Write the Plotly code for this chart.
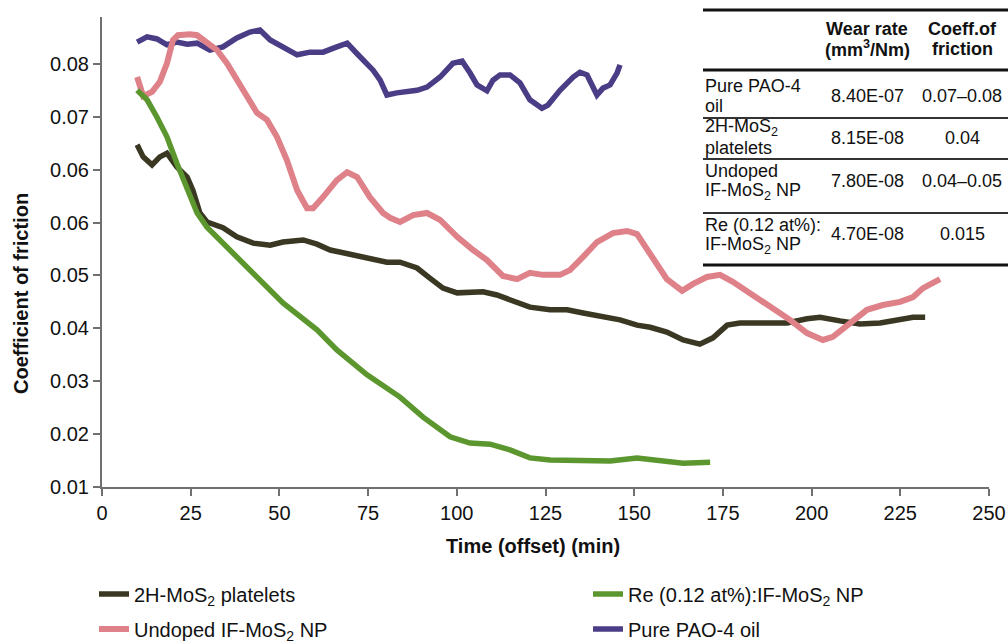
import plotly.graph_objects as go

# ---- friction traces: time (min) and coefficient of friction ----
pao_t = [9.9, 12.7, 15.5, 18.3, 21.1, 24.0, 26.8, 30.4, 34.1, 38.0, 41.7, 44.5, 47.4, 51.0,
         55.0, 58.6, 62.3, 66.2, 69.1, 71.9, 76.4, 78.4, 80.3, 83.1, 88.8, 91.6, 95.3, 98.9,
         101.5, 103.7, 105.7, 108.5, 110.2, 112.2, 115.0, 117.8, 120.6, 124.0, 125.7, 129.1,
         132.8, 134.7, 136.7, 139.5, 141.2, 143.2, 145.2, 146.0]
pao_f = [0.0941, 0.0951, 0.0947, 0.0936, 0.0941, 0.0937, 0.0939, 0.0926, 0.0932, 0.0949,
         0.0960, 0.0964, 0.0945, 0.0932, 0.0917, 0.0922, 0.0922, 0.0932, 0.0939, 0.0919,
         0.0888, 0.0869, 0.0841, 0.0845, 0.0850, 0.0856, 0.0875, 0.0901, 0.0905, 0.0883,
         0.0860, 0.0849, 0.0869, 0.0879, 0.0879, 0.0864, 0.0832, 0.0816, 0.0822, 0.0850,
         0.0875, 0.0884, 0.0879, 0.0841, 0.0854, 0.0860, 0.0883, 0.0898]

mos2_t = [9.9, 11.6, 14.1, 16.3, 18.3, 21.1, 24.0, 25.6, 27.6, 29.6, 34.1, 38.0, 42.6, 47.4,
          51.0, 56.7, 60.6, 64.3, 69.9, 74.7, 80.3, 84.0, 88.8, 92.4, 96.1, 100.1, 107.4,
          111.3, 117.0, 120.6, 126.3, 131.1, 135.6, 141.2, 146.0, 150.8, 154.5, 159.2, 163.8,
          168.5, 172.2, 176.2, 179.8, 187.4, 193.1, 198.7, 202.4, 208.0, 213.6, 219.3, 224.9,
          228.6, 232.0]
mos2_f = [0.0747, 0.0724, 0.0709, 0.0724, 0.0731, 0.0705, 0.0686, 0.0661, 0.0618, 0.0601,
          0.0590, 0.0573, 0.0561, 0.0557, 0.0563, 0.0567, 0.0559, 0.0548, 0.0540, 0.0533,
          0.0525, 0.0525, 0.0514, 0.0495, 0.0476, 0.0467, 0.0469, 0.0463, 0.0450, 0.0440,
          0.0435, 0.0435, 0.0429, 0.0421, 0.0416, 0.0406, 0.0402, 0.0393, 0.0378, 0.0370,
          0.0382, 0.0406, 0.0410, 0.0410, 0.0410, 0.0418, 0.0421, 0.0414, 0.0408, 0.0410,
          0.0416, 0.0421, 0.0421]

undoped_t = [9.9, 10.7, 11.6, 14.1, 16.3, 18.3, 20.0, 21.4, 24.8, 26.8, 29.6, 32.4, 35.2,
             38.0, 40.9, 43.7, 46.5, 49.3, 52.1, 55.0, 57.8, 59.5, 62.3, 66.2, 69.1, 71.9,
             75.5, 79.2, 81.2, 84.0, 87.7, 91.6, 95.3, 100.1, 104.6, 108.5, 113.0, 117.0,
             120.6, 124.3, 129.1, 131.9, 135.6, 139.5, 144.0, 148.0, 150.8, 154.5, 159.2,
             163.5, 166.6, 170.5, 174.2, 177.8, 182.6, 189.1, 193.9, 198.7, 203.2, 206.0,
             210.8, 215.6, 220.1, 224.9, 228.6, 231.4, 234.2, 236.2]
undoped_f = [0.0875, 0.0856, 0.0839, 0.0847, 0.0866, 0.0901, 0.0945, 0.0954, 0.0956, 0.0954,
             0.0941, 0.0926, 0.0901, 0.0869, 0.0837, 0.0807, 0.0794, 0.0762, 0.0718, 0.0661,
             0.0627, 0.0627, 0.0648, 0.0680, 0.0695, 0.0686, 0.0648, 0.0618, 0.0609, 0.0601,
             0.0614, 0.0618, 0.0605, 0.0573, 0.0548, 0.0529, 0.0499, 0.0493, 0.0505, 0.0501,
             0.0501, 0.0510, 0.0535, 0.0563, 0.0580, 0.0584, 0.0578, 0.0539, 0.0493, 0.0471,
             0.0484, 0.0497, 0.0501, 0.0488, 0.0467, 0.0440, 0.0416, 0.0391, 0.0378, 0.0384,
             0.0410, 0.0435, 0.0444, 0.0450, 0.0459, 0.0476, 0.0486, 0.0493]

re_t = [9.9, 12.7, 15.5, 18.3, 21.1, 24.0, 26.8, 29.6, 34.1, 38.9, 41.7, 51.0, 60.6, 66.2,
        74.7, 84.0, 90.5, 98.1, 103.7, 109.4, 115.0, 120.6, 126.3, 135.6, 143.2, 150.8,
        156.4, 163.8, 171.4]
re_f = [0.0850, 0.0832, 0.0799, 0.0762, 0.0712, 0.0661, 0.0618, 0.0591, 0.0561, 0.0529,
        0.0512, 0.0448, 0.0397, 0.0359, 0.0312, 0.0270, 0.0232, 0.0195, 0.0183, 0.0181,
        0.0170, 0.0155, 0.0151, 0.0151, 0.0149, 0.0155, 0.0151, 0.0145, 0.0147]

# axis ticks
x_ticks = [0, 25, 50, 75, 100, 125, 150, 175, 200, 225, 250]
y_tickvals = [0.01, 0.02, 0.03, 0.04, 0.05, 0.06, 0.07, 0.08, 0.09]
y_ticktext = ["0.01", "0.02", "0.03", "0.04", "0.05", "0.06", "0.06", "0.07", "0.08"]

# inset table contents
tbl_head_1 = ["Wear rate", "(mm<sup>3</sup>/Nm)"]
tbl_head_2 = ["Coeff.of", "friction"]
tbl_names = [["Pure PAO-4", "oil"],
             ["2H-MoS<sub>2</sub>", "platelets"],
             ["Undoped", "IF-MoS<sub>2</sub> NP"],
             ["Re (0.12 at%):", "IF-MoS<sub>2</sub> NP"]]
tbl_wear = ["8.40E-07", "8.15E-08", "7.80E-08", "4.70E-08"]
tbl_cof = ["0.07\u20130.08", "0.04", "0.04\u20130.05", "0.015"]

C_PAO = "#4b3c86"
C_2H = "#3a3823"
C_UND = "#df8189"
C_RE = "#5b972e"
FONT = "Liberation Sans, Arial, sans-serif"

W, H = 1008, 644
PL, PR, PT, PB = 102, 989, 17, 487


def xp(px):
    return (px - PL) / (PR - PL)


def yp(py):
    return (PB - py) / (PB - PT)


def label(text, px, py, size, xanchor="center", **kw):
    return dict(text=text, x=xp(px), y=yp(py), xref="paper", yref="paper",
                xanchor=xanchor, yanchor="middle", showarrow=False,
                font=dict(family=FONT, size=size, color="#111"), **kw)


fig = go.Figure()
fig.add_trace(go.Scatter(x=pao_t, y=pao_f, mode="lines", name="Pure PAO-4 oil",
                         line=dict(color=C_PAO, width=5.5), legend="legend4"))
fig.add_trace(go.Scatter(x=mos2_t, y=mos2_f, mode="lines", name="2H-MoS<sub>2</sub> platelets",
                         line=dict(color=C_2H, width=5.5), legend="legend"))
fig.add_trace(go.Scatter(x=undoped_t, y=undoped_f, mode="lines", name="Undoped IF-MoS<sub>2</sub> NP",
                         line=dict(color=C_UND, width=6), legend="legend3"))
fig.add_trace(go.Scatter(x=re_t, y=re_f, mode="lines", name="Re (0.12 at%):IF-MoS<sub>2</sub> NP",
                         line=dict(color=C_RE, width=5.5), legend="legend2"))

axis_common = dict(showgrid=False, zeroline=False, showline=True, linecolor="#707070",
                   linewidth=2, ticks="outside", ticklen=7, tickwidth=2, tickcolor="#707070",
                   tickfont=dict(family=FONT, size=20, color="#111"))

fig.update_xaxes(range=[0, 250], tickvals=x_ticks, **axis_common)
fig.update_yaxes(range=[0.01, 0.01 + (PB - PT) / 5290], tickvals=y_tickvals,
                 ticktext=y_ticktext, **axis_common)

annotations = [
    label("<b>Time (offset) (min)</b>", 533, 546, 20),
    label("<b>Coefficient of friction</b>", 21, 294, 20, textangle=-90),
]

X_NAME, X_WEAR, X_COF = 703, 867, 962
for i, t in enumerate(tbl_head_1):
    annotations.append(label(f"<b>{t}</b>", X_WEAR, 29 + 20 * i, 18))
for i, t in enumerate(tbl_head_2):
    annotations.append(label(f"<b>{t}</b>", X_COF, 29 + 20 * i, 18))

row_top = [86, 128, 171, 225]
row_mid = [96, 138, 181, 234]
for k in range(4):
    for j, line in enumerate(tbl_names[k]):
        annotations.append(label(line, X_NAME, row_top[k] + 20 * j, 18, xanchor="left"))
    annotations.append(label(tbl_wear[k], X_WEAR, row_mid[k], 18))
    annotations.append(label(tbl_cof[k], X_COF, row_mid[k], 18))

shapes = []
for py, lw, col in [(10, 3, "#111"), (70, 3, "#111"), (118, 2, "#333"), (159, 2, "#333"),
                    (213, 2, "#333"), (265, 3, "#111")]:
    shapes.append(dict(type="line", xref="paper", yref="paper", x0=xp(703), x1=xp(1008),
                       y0=yp(py), y1=yp(py), line=dict(color=col, width=lw)))


def legend_box(px, py):
    return dict(x=xp(px), y=yp(py), xanchor="left", yanchor="middle", orientation="h",
                bgcolor="rgba(0,0,0,0)", font=dict(family=FONT, size=20, color="#111"))


fig.update_layout(
    width=W, height=H,
    margin=dict(l=PL, r=W - PR, t=PT, b=H - PB, autoexpand=False),
    paper_bgcolor="white", plot_bgcolor="white",
    showlegend=True,
    legend=legend_box(94, 594),
    legend2=legend_box(588, 594),
    legend3=legend_box(94, 629),
    legend4=legend_box(588, 629),
    annotations=annotations,
    shapes=shapes,
)

fig.write_html("out.html")
